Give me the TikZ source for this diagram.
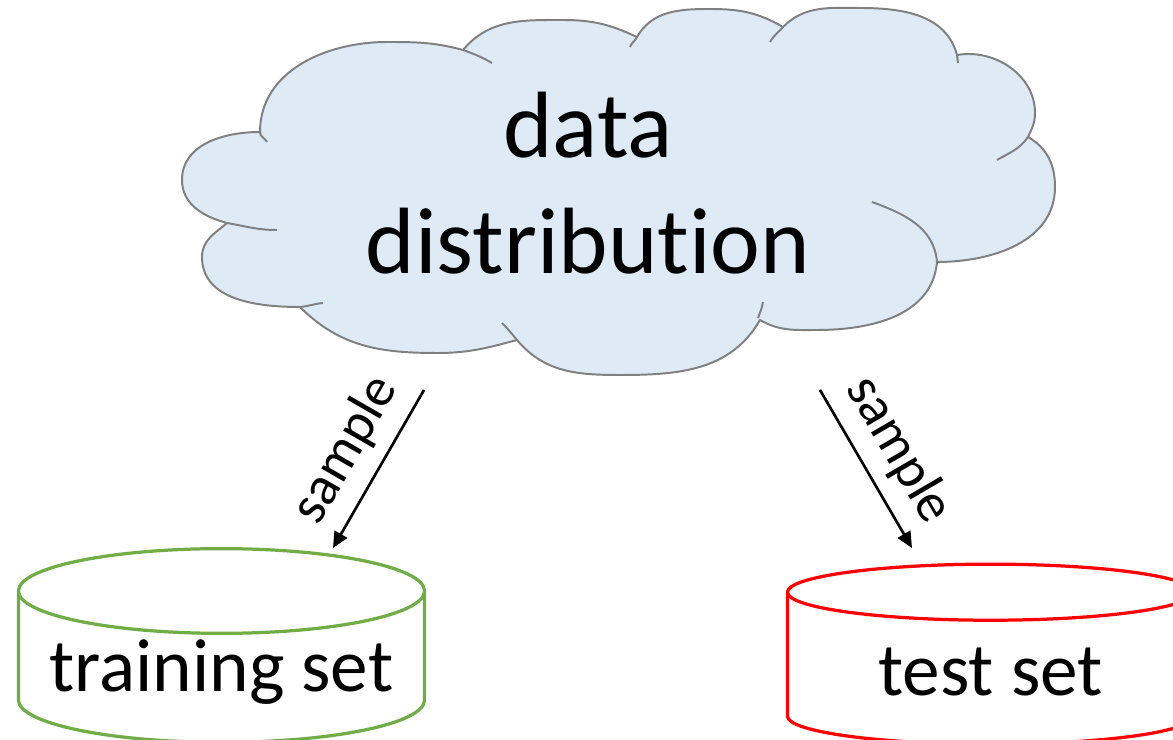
\documentclass[tikz,border=0pt]{standalone}
\usepackage{fontspec}
\setmainfont{Carlito}[Ligatures={NoCommon}]
\usetikzlibrary{arrows.meta,positioning,calc,shapes.geometric}
\definecolor{CloudBlue}{HTML}{DEEBF7}
\definecolor{CloudGrey}{HTML}{808080}
\definecolor{TrainGreen}{HTML}{70AD47}
\definecolor{TestRed}{HTML}{FF0000}

\begin{document}
\begin{tikzpicture}[
  x=0.025cm, y=-0.025cm,
  puff/.style={draw=CloudGrey, line width=1.4pt},
  dataset/.style={cylinder, shape border rotate=90, aspect=0.24, line width=2.3pt, fill=white, minimum width=10.15cm, minimum height=4.5cm, font=\fontsize{53.5}{64}\selectfont},
  arrow/.style={-{Triangle[length=0.4cm, width=0.36cm]}, line width=1.9pt},
  lbl/.style={font=\fontsize{39}{47}\selectfont}
]
  \useasboundingbox (0,0) rectangle (1173,740);
  % cloud outline, puff by puff
  \path[puff, fill=CloudBlue] (227,223)
    to[out=165,in=270] (182,180) to[out=90,in=180] (260,132)
    to[out=90,in=180] (387,42) to[out=0,in=165] (463,50)
    to[out=50,in=180] (563,20) to[out=0,in=155] (637,37)
    to[out=60,in=180] (710,9) to[out=0,in=150] (783,27)
    to[out=45,in=180] (860,8) to[out=0,in=105] (957,55)
    to[out=10,in=90] (1035,113) to[out=270,in=65] (1028,137)
    to[out=330,in=90] (1055,187) to[out=270,in=0] (937,262)
    to[out=265,in=0] (817,330) to[out=180,in=330] (760,320)
    to[out=240,in=0] (620,375) to[out=180,in=310] (517,340)
    to[out=195,in=0] (437,353) to[out=180,in=315] (300,307)
    to[out=180,in=270] (202,257) to[out=90,in=220] (227,223) -- cycle;
  % inner puff arcs
  \draw[puff] (227,223) to[out=350,in=180] (277,230);
  \draw[puff] (260,132) to[out=270,in=120] (267,142);
  \draw[puff] (463,50) to[out=340,in=150] (492,63);
  \draw[puff] (637,37) to[out=245,in=70] (630,47);
  \draw[puff] (783,27) to[out=230,in=60] (770,42);
  \draw[puff] (957,55) to[out=280,in=100] (958,63);
  \draw[puff] (1028,137) to[out=235,in=30] (997,160);
  \draw[puff] (937,262) to[out=95,in=340] (872,202);
  \draw[puff] (758,318) to[out=70,in=260] (763,302);
  \draw[puff] (517,340) to[out=130,in=315] (502,323);
  \draw[puff] (300,307) to[out=5,in=185] (323,303);
  \node[align=center, font=\fontsize{67}{83}\selectfont] (dist) at (588,183) {data\\distribution};
  \node[dataset, draw=TrainGreen] (train) at (221.5,672) {training set};
  \node[dataset, draw=TestRed] (test) at (990.5,672) {test set};
  % arrow ends
  \coordinate (trainout) at ($(dist)+(-164,207)$);
  \coordinate (trainin) at ($(train)+(111.5,-124)$);
  \coordinate (testout) at ($(dist)+(232,207)$);
  \coordinate (testin) at ($(test)+(-78.5,-124)$);
  \draw[arrow] (trainout) -- node[lbl, midway, sloped, above=6pt] {sample} (trainin);
  \draw[arrow] (testout) -- node[lbl, midway, sloped, above=6pt] {sample} (testin);
\end{tikzpicture}
\end{document}
